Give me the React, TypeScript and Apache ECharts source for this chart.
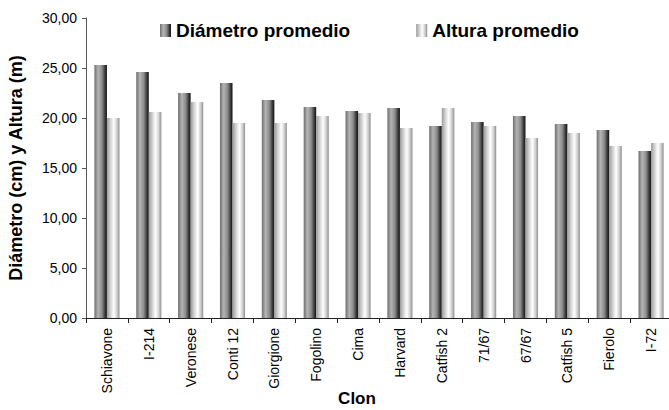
import React, { useEffect, useRef } from "react";
import * as echarts from "echarts";

const categories = ["Schiavone", "I-214", "Veronese", "Conti 12", "Giorgione", "Fogolino", "Cima", "Harvard", "Catfish 2", "71/67", "67/67", "Catfish 5", "Fierolo", "I-72"];
const diametro = [25.3, 24.6, 22.5, 23.5, 21.8, 21.1, 20.7, 21.0, 19.2, 19.6, 20.2, 19.4, 18.8, 16.7];
const altura = [20.0, 20.6, 21.6, 19.5, 19.5, 20.2, 20.5, 19.0, 21.0, 19.2, 18.0, 18.5, 17.2, 17.5];
const seriesNames = ["Diámetro promedio", "Altura promedio"];
const yTitle = "Diámetro (cm) y Altura (m)";
const xTitle = "Clon";

const FONT = "'Liberation Sans', Arial, sans-serif";

const diamGrad = new echarts.graphic.LinearGradient(0, 0, 1, 0, [
  { offset: 0, color: "#6e6e6e" },
  { offset: 0.3, color: "#b4b4b4" },
  { offset: 0.6, color: "#8c8c8c" },
  { offset: 0.85, color: "#3a3a3a" },
  { offset: 1, color: "#111111" },
]);
const altGrad = new echarts.graphic.LinearGradient(0, 0, 1, 0, [
  { offset: 0, color: "#9a9a9a" },
  { offset: 0.3, color: "#d6d6d6" },
  { offset: 0.55, color: "#ffffff" },
  { offset: 0.8, color: "#cfcfcf" },
  { offset: 1, color: "#8e8e8e" },
]);

export default function App() {
  const ref = useRef<HTMLDivElement>(null);
  useEffect(() => {
    if (!ref.current) return;
    const chart = echarts.init(ref.current, undefined, { renderer: "svg" });
    chart.setOption({
      animation: false,
      backgroundColor: "#ffffff",
      textStyle: { fontFamily: FONT },
      legend: {
        left: 155,
        top: 16,
        itemWidth: 11,
        itemHeight: 13,
        itemGap: 66,
        icon: "rect",
        textStyle: { fontFamily: FONT, fontSize: 19, fontWeight: "bold", color: "#000" },
        data: seriesNames,
      },
      grid: { left: 86, right: -3, top: 18, bottom: 92, containLabel: false, outerBoundsMode: "none" },
      xAxis: {
        type: "category",
        data: categories,
        name: xTitle,
        nameLocation: "middle",
        nameGap: 72,
        nameMoveOverlap: false,
        nameTextStyle: { fontFamily: FONT, fontSize: 17, fontWeight: "bold", color: "#000", padding: [0, 44, 0, 0] },
        axisLine: { lineStyle: { color: "#222" } },
        axisTick: { show: true, length: 5, lineStyle: { color: "#222" } },
        axisLabel: { rotate: 90, fontFamily: FONT, fontSize: 14, color: "#000", margin: 10 },
      },
      yAxis: {
        type: "value",
        min: 0,
        max: 30,
        interval: 5,
        name: yTitle,
        nameLocation: "middle",
        nameGap: 61,
        nameMoveOverlap: false,
        nameTextStyle: { fontFamily: FONT, fontSize: 18, fontWeight: "bold", color: "#000" },
        axisLine: { show: true, lineStyle: { color: "#555" } },
        axisTick: { show: true, length: 4, lineStyle: { color: "#555" } },
        splitLine: { show: false },
        axisLabel: {
          fontFamily: FONT,
          fontSize: 14,
          color: "#000",
          margin: 9,
          formatter: (v: number) => v.toFixed(2).replace(".", ","),
        },
      },
      series: [
        {
          name: seriesNames[0],
          type: "bar",
          data: diametro,
          barGap: "0%",
          barCategoryGap: "40%",
          itemStyle: { color: diamGrad },
        },
        {
          name: seriesNames[1],
          type: "bar",
          data: altura,
          itemStyle: { color: altGrad },
        },
      ],
    });
    return () => chart.dispose();
  }, []);
  return <div ref={ref} style={{ position: "absolute", left: 0, top: 0, width: 669, height: 410 }} />;
}
